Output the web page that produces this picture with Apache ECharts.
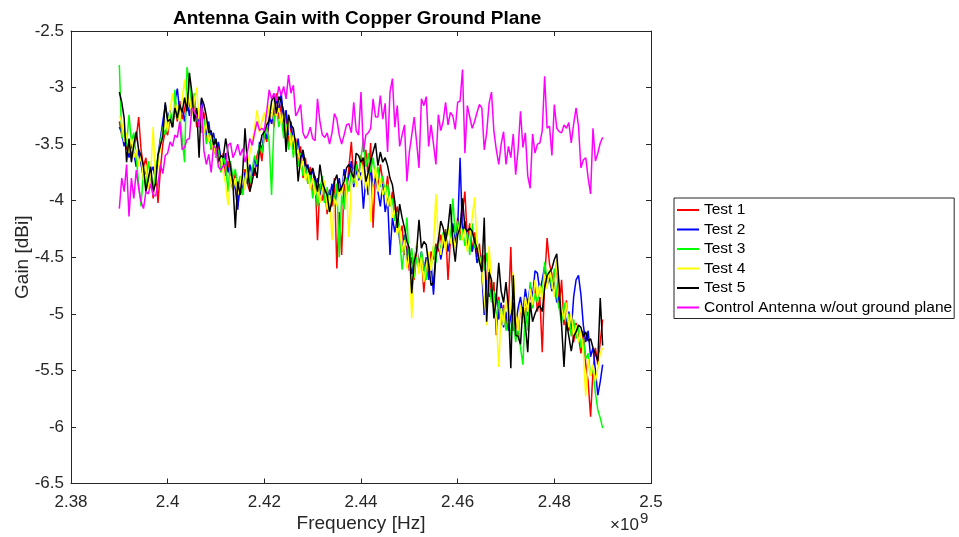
<!DOCTYPE html>
<html lang="en">
<head>
<meta charset="UTF-8">
<title>Antenna Gain with Copper Ground Plane</title>
<script src="https://cdn.jsdelivr.net/npm/echarts@6/dist/echarts.min.js"></script>
<style>
	html, body {margin: 0; padding: 0; background: #fff;}
	#chart {width: 959px; height: 537px;}
</style>
</head>
<body>
<div id="chart"></div>
<script>
	// sweep: 2.39 GHz .. 2.49 GHz in 0.5 MHz steps (201 points)
	let freqStart = 2.39e9;
	let freqStep = 0.5e6;

	let test1 = [
		-3.30,-3.42,-3.38,-3.55,-3.48,-3.60,-3.52,-3.45,-3.26,-3.55,
		-3.70,-3.62,-3.85,-3.78,-3.98,-3.70,-4.02,-3.72,-3.50,-3.38,
		-3.42,-3.25,-3.35,-3.18,-3.30,-3.12,-3.28,-3.20,-3.05,-3.15,
		-3.22,-3.10,-3.35,-3.28,-3.40,-3.22,-3.45,-3.38,-3.55,-3.48,
		-3.62,-3.50,-3.70,-3.58,-3.78,-3.65,-3.82,-3.90,-3.75,-4.05,
		-3.88,-3.95,-3.72,-3.85,-3.92,-3.70,-3.78,-3.60,-3.52,-3.65,
		-3.40,-3.48,-3.30,-3.22,-3.35,-3.05,-3.28,-3.15,-3.40,-3.25,
		-3.50,-3.32,-3.55,-3.45,-3.68,-3.52,-3.80,-3.62,-3.85,-3.70,
		-3.92,-3.78,-4.35,-3.85,-4.00,-3.88,-4.12,-3.90,-4.05,-3.80,
		-4.60,-4.10,-4.48,-3.85,-3.95,-3.70,-3.48,-3.82,-3.65,-3.78,
		-3.60,-3.72,-3.55,-3.80,-3.49,-4.24,-3.75,-3.90,-3.68,-3.82,
		-3.95,-3.78,-4.05,-3.92,-4.15,-4.05,-4.30,-4.22,-4.48,-4.40,
		-4.62,-4.50,-4.70,-4.42,-4.58,-4.48,-4.81,-4.55,-4.68,-4.45,
		-4.52,-4.38,-4.45,-4.30,-4.42,-4.25,-4.70,-4.35,-4.22,-4.40,
		-4.15,-4.32,-4.10,-3.92,-4.35,-4.20,-4.45,-4.28,-4.50,-4.38,
		-4.62,-4.48,-4.75,-4.60,-4.88,-4.72,-5.19,-4.85,-5.05,-4.92,
		-5.10,-4.95,-4.41,-5.15,-5.00,-5.20,-4.92,-5.08,-4.85,-5.02,
		-4.80,-4.95,-4.72,-4.98,-4.85,-5.34,-4.70,-4.33,-4.56,-4.65,
		-4.82,-4.53,-4.95,-4.70,-5.10,-4.88,-5.15,-5.02,-5.25,-5.08,
		-5.20,-5.35,-5.15,-5.45,-5.60,-5.91,-5.50,-5.30,-5.45,-5.25,
		-5.05
	];
	let test2 = [
		-3.35,-3.40,-3.52,-3.45,-3.62,-3.50,-3.58,-3.70,-3.55,-3.68,
		-3.80,-3.72,-3.88,-3.75,-3.70,-3.82,-3.60,-3.45,-3.30,-3.15,
		-3.28,-3.20,-3.35,-3.12,-3.01,-3.22,-3.18,-3.30,-3.12,-3.25,
		-3.08,-3.28,-3.20,-3.35,-3.10,-3.32,-3.42,-3.30,-3.48,-3.40,
		-3.55,-3.48,-3.62,-3.70,-3.58,-3.75,-3.68,-3.82,-3.90,-4.08,
		-3.80,-3.92,-3.75,-3.85,-3.68,-3.78,-3.62,-3.70,-3.48,-3.55,
		-3.38,-3.45,-3.25,-3.32,-3.18,-3.10,-3.22,-3.05,-3.30,-3.20,
		-3.42,-3.30,-3.50,-3.58,-3.45,-3.65,-3.58,-3.75,-3.68,-3.80,
		-3.72,-3.88,-3.80,-3.95,-3.85,-4.02,-3.90,-3.98,-3.85,-4.05,
		-3.92,-3.80,-3.95,-3.72,-3.85,-3.78,-3.65,-3.88,-3.72,-3.82,
		-3.75,-4.07,-3.80,-3.95,-3.70,-3.88,-3.78,-3.92,-4.05,-3.85,
		-4.10,-3.98,-4.48,-4.15,-4.28,-4.12,-4.35,-4.45,-4.30,-4.55,
		-4.48,-4.65,-4.52,-4.40,-4.58,-4.45,-4.62,-4.50,-4.70,-4.55,
		-4.83,-4.48,-4.35,-4.52,-4.40,-4.28,-4.45,-4.32,-4.20,-4.38,
		-4.25,-3.62,-4.30,-4.18,-4.40,-4.28,-4.45,-4.35,-4.55,-4.48,
		-4.64,-5.01,-4.70,-4.85,-4.78,-4.95,-4.82,-5.05,-4.90,-5.12,
		-4.98,-5.15,-5.02,-4.90,-5.10,-4.95,-4.85,-5.00,-4.78,-4.92,
		-4.75,-4.85,-4.62,-4.64,-4.80,-4.70,-4.58,-4.75,-4.68,-4.80,
		-4.72,-4.90,-4.85,-5.05,-4.92,-5.10,-4.98,-5.15,-4.85,-4.70,
		-4.66,-4.83,-5.10,-5.25,-5.15,-5.38,-5.30,-5.50,-5.72,-5.60,
		-5.45
	];
	let test3 = [
		-2.80,-3.45,-3.38,-3.52,-3.24,-3.48,-3.40,-3.62,-3.85,-4.05,
		-3.72,-3.90,-3.65,-3.78,-3.95,-3.70,-3.62,-3.48,-3.35,-3.42,
		-3.30,-3.22,-3.35,-3.02,-3.28,-3.20,-3.45,-3.66,-2.82,-2.96,
		-3.18,-3.05,-3.30,-3.22,-3.40,-3.28,-3.50,-3.38,-3.55,-3.45,
		-3.62,-3.55,-3.75,-3.60,-3.70,-3.92,-3.65,-3.80,-3.72,-3.88,
		-3.78,-3.95,-3.82,-3.70,-3.85,-3.72,-3.60,-3.68,-3.50,-3.58,
		-3.42,-3.35,-3.48,-3.95,-3.30,-3.18,-3.35,-3.25,-3.45,-3.32,
		-3.55,-3.40,-3.62,-3.48,-3.70,-3.58,-3.78,-3.70,-3.85,-3.75,
		-3.98,-3.82,-4.05,-3.90,-3.78,-4.02,-3.88,-4.10,-3.92,-4.00,
		-3.85,-4.50,-3.95,-4.08,-3.80,-3.92,-3.75,-3.85,-3.68,-3.80,
		-3.62,-3.45,-3.70,-3.58,-3.75,-3.62,-3.80,-3.70,-3.88,-3.78,
		-3.95,-3.85,-4.05,-3.98,-4.18,-4.10,-4.32,-4.61,-4.40,-4.15,
		-4.55,-4.42,-4.68,-4.50,-4.62,-4.45,-4.58,-4.70,-4.48,-4.60,
		-4.40,-4.55,-4.32,-4.45,-4.28,-4.38,-4.22,-4.35,-3.98,-4.30,
		-4.18,-4.35,-4.25,-4.40,-4.28,-4.48,-4.20,-4.42,-4.35,-4.55,
		-4.48,-4.62,-4.46,-4.75,-4.90,-4.80,-5.05,-4.88,-5.10,-4.95,
		-5.15,-5.00,-5.20,-5.05,-5.25,-5.10,-5.30,-5.45,-4.95,-5.15,
		-4.72,-4.95,-4.82,-4.90,-4.75,-4.85,-4.54,-4.70,-4.62,-4.78,
		-4.60,-4.85,-4.95,-5.08,-4.90,-5.15,-5.00,-5.20,-5.05,-5.22,
		-5.12,-5.30,-5.22,-5.40,-5.35,-5.55,-5.48,-5.70,-5.85,-5.92,
		-6.01
	];
	let test4 = [
		-3.25,-3.30,-3.48,-3.40,-3.58,-3.45,-3.62,-3.55,-3.70,-3.60,
		-3.82,-3.68,-3.90,-3.75,-3.35,-3.85,-3.70,-3.52,-3.40,-3.28,
		-3.38,-3.20,-3.05,-3.25,-3.15,-3.30,-3.10,-2.93,-3.20,-3.08,
		-3.25,-3.12,-3.00,-3.28,-3.18,-3.40,-3.30,-3.48,-3.42,-3.58,
		-3.50,-3.68,-3.60,-3.75,-3.85,-4.04,-3.78,-3.90,-3.80,-3.95,
		-3.85,-3.72,-3.90,-3.68,-3.58,-3.48,-3.35,-3.20,-3.40,-3.30,
		-3.22,-3.35,-3.15,-3.28,-3.10,-3.25,-3.18,-3.32,-3.22,-3.40,
		-3.30,-3.52,-3.42,-3.60,-3.55,-3.72,-3.65,-3.82,-3.75,-3.90,
		-3.80,-3.95,-3.85,-4.02,-3.90,-3.82,-4.08,-3.95,-4.35,-3.98,
		-4.05,-3.88,-3.95,-3.78,-3.90,-4.32,-3.85,-3.72,-3.88,-3.75,
		-3.82,-3.68,-3.90,-3.75,-4.19,-3.85,-3.70,-3.92,-3.80,-3.95,
		-3.88,-4.05,-3.95,-4.15,-4.08,-4.30,-4.22,-4.45,-4.35,-4.60,
		-4.48,-5.04,-4.55,-4.38,-4.65,-4.50,-4.72,-4.58,-4.45,-4.62,
		-4.40,-3.94,-4.35,-4.48,-4.30,-4.45,-4.22,-4.38,-4.28,-4.42,
		-4.30,-4.18,-4.35,-4.25,-4.45,-4.32,-4.15,-3.97,-4.38,-4.50,
		-4.62,-4.85,-5.10,-4.40,-4.72,-4.90,-5.05,-5.47,-4.95,-5.10,
		-4.88,-5.05,-4.95,-4.63,-5.00,-5.15,-4.92,-5.08,-4.85,-4.98,
		-4.78,-4.92,-4.70,-4.85,-4.75,-4.88,-4.65,-4.78,-4.60,-4.72,
		-4.85,-4.53,-4.80,-4.95,-5.05,-4.90,-5.12,-5.00,-5.20,-5.10,
		-5.25,-5.15,-5.35,-5.73,-5.40,-5.55,-5.45,-5.60,-5.48,-5.35,
		-5.30
	];
	let test5 = [
		-3.04,-3.13,-3.27,-3.66,-3.45,-3.66,-3.50,-3.39,-3.55,-3.60,
		-3.70,-3.92,-3.80,-3.70,-3.92,-3.85,-3.60,-3.51,-3.43,-3.13,
		-3.30,-3.28,-3.35,-3.18,-3.27,-3.15,-3.22,-3.09,-3.21,-2.87,
		-3.04,-3.30,-3.18,-3.62,-3.09,-3.15,-3.25,-3.40,-3.38,-3.51,
		-3.45,-3.66,-3.60,-3.62,-3.45,-3.58,-3.70,-3.85,-4.24,-3.83,
		-3.95,-3.77,-3.36,-3.67,-3.92,-3.83,-3.71,-3.80,-3.54,-3.42,
		-3.39,-3.33,-3.29,-3.12,-3.07,-3.23,-3.08,-3.12,-3.21,-3.57,
		-3.24,-3.33,-3.36,-3.51,-3.83,-3.62,-3.55,-3.68,-3.71,-3.77,
		-3.71,-3.80,-3.92,-3.68,-3.83,-3.90,-3.95,-4.10,-4.00,-3.83,
		-3.77,-3.92,-3.88,-3.83,-3.71,-3.68,-3.75,-3.80,-3.58,-3.60,
		-3.66,-3.62,-3.83,-3.75,-3.65,-3.57,-3.49,-3.69,-3.57,-3.66,
		-3.62,-3.69,-3.80,-3.86,-4.01,-4.24,-4.03,-4.15,-4.24,-4.36,
		-4.42,-4.82,-4.54,-4.45,-4.17,-4.42,-4.36,-4.39,-4.57,-4.75,
		-4.72,-4.48,-4.36,-4.18,-4.24,-4.36,-4.24,-4.03,-4.36,-4.54,
		-4.30,-4.24,-3.98,-4.24,-4.27,-4.24,-4.27,-4.36,-4.42,-4.54,
		-4.63,-4.15,-5.07,-4.63,-4.70,-5.04,-4.85,-4.55,-4.80,-4.90,
		-4.72,-4.95,-5.48,-4.66,-5.19,-5.20,-5.27,-4.94,-5.10,-5.34,
		-4.90,-5.07,-5.00,-4.95,-4.93,-4.98,-4.77,-4.66,-4.63,-4.60,
		-4.52,-4.47,-4.75,-5.10,-5.47,-5.07,-5.20,-5.33,-5.20,-5.16,
		-5.10,-5.12,-5.20,-5.16,-5.24,-5.22,-5.30,-5.35,-5.42,-4.86,
		-5.28
	];
	let control = [
		-4.07,-3.80,-3.92,-3.68,-4.14,-3.80,-3.98,-3.73,-3.89,-4.01,
		-4.07,-3.92,-3.94,-3.85,-3.95,-3.96,-3.85,-3.68,-3.76,-3.60,
		-3.58,-3.48,-3.52,-3.42,-3.44,-3.30,-3.55,-3.53,-3.46,-3.45,
		-3.18,-3.21,-3.25,-3.35,-3.15,-3.56,-3.68,-3.59,-3.75,-3.51,
		-3.54,-3.70,-3.73,-3.69,-3.69,-3.51,-3.49,-3.62,-3.57,-3.50,
		-3.60,-3.54,-3.66,-3.57,-3.45,-3.51,-3.40,-3.30,-3.38,-3.36,
		-3.38,-3.21,-3.02,-3.10,-3.05,-3.12,-2.99,-3.07,-2.99,-3.10,
		-2.89,-3.05,-2.98,-3.25,-3.21,-3.15,-3.40,-3.45,-3.42,-3.35,
		-3.45,-3.47,-3.10,-3.30,-3.42,-3.44,-3.40,-3.50,-3.40,-3.23,
		-3.28,-3.42,-3.50,-3.42,-3.33,-3.32,-3.40,-3.13,-3.38,-3.42,
		-3.04,-3.57,-3.42,-3.40,-3.36,-3.10,-3.26,-3.26,-3.07,-3.28,
		-3.14,-3.57,-3.04,-2.92,-3.35,-3.16,-3.52,-3.42,-3.33,-3.83,
		-3.57,-3.42,-3.26,-3.48,-3.71,-3.10,-3.16,-3.08,-3.52,-3.33,
		-3.50,-3.68,-3.24,-3.38,-3.30,-3.13,-3.33,-3.22,-3.25,-3.37,
		-3.13,-3.12,-2.84,-3.58,-3.16,-3.26,-3.36,-3.30,-3.22,-3.15,
		-3.18,-3.55,-3.40,-3.14,-3.04,-3.39,-3.55,-3.68,-3.50,-3.39,
		-3.68,-3.52,-3.62,-3.41,-3.77,-3.55,-3.21,-3.53,-3.40,-3.78,
		-3.89,-3.41,-3.58,-3.50,-3.49,-3.38,-2.90,-3.36,-3.34,-3.60,
		-3.15,-3.36,-3.39,-3.40,-3.33,-3.36,-3.31,-3.49,-3.32,-3.18,
		-3.34,-3.71,-3.64,-3.62,-3.80,-3.94,-3.36,-3.65,-3.58,-3.49,
		-3.44
	];

	let names = ['Test 1', 'Test 2', 'Test 3', 'Test 4', 'Test 5', 'Control Antenna w/out ground plane'];
	let colors = ['#ff0000', '#0000ff', '#00ff00', '#ffff00', '#000000', '#ff00ff'];
	let values = [test1, test2, test3, test4, test5, control];

	let font = '"Liberation Sans", Arial, Helvetica, sans-serif';
	let axisColor = '#262626';

	function xAxisOf(pos) {
		return {
			type: 'value', position: pos,
			min: 2.38e9, max: 2.5e9, interval: 2e7,
			axisLine: {show: true, onZero: false, lineStyle: {color: axisColor, width: 1}},
			axisTick: {show: true, inside: true, length: 5, lineStyle: {color: axisColor}},
			splitLine: {show: false},
			axisLabel: {
				show: pos == 'bottom', color: axisColor, fontSize: 17, fontFamily: font, margin: 10,
				formatter: v => String(+(v / 1e9).toFixed(2))
			}
		};
	}
	function yAxisOf(pos) {
		return {
			type: 'value', position: pos,
			min: -6.5, max: -2.5, interval: 0.5,
			axisLine: {show: true, onZero: false, lineStyle: {color: axisColor, width: 1}},
			axisTick: {show: true, inside: true, length: 5, lineStyle: {color: axisColor}},
			splitLine: {show: false},
			axisLabel: {show: pos == 'left', color: axisColor, fontSize: 17, fontFamily: font, margin: 7}
		};
	}

	let xBottom = xAxisOf('bottom');
	xBottom.name = 'Frequency [Hz]';
	xBottom.nameLocation = 'middle';
	xBottom.nameGap = 31;
	xBottom.nameMoveOverlap = false;
	xBottom.nameTextStyle = {color: axisColor, fontSize: 19, fontFamily: font};

	let yLeft = yAxisOf('left');
	yLeft.name = 'Gain [dBi]';
	yLeft.nameLocation = 'middle';
	yLeft.nameGap = 39;
	yLeft.nameMoveOverlap = false;
	yLeft.nameTextStyle = {color: axisColor, fontSize: 19, fontFamily: font};

	let options = {
		animation: false,
		backgroundColor: '#fff',
		title: {
			text: 'Antenna Gain with Copper Ground Plane',
			left: 173, top: 9, padding: 0,
			textStyle: {fontSize: 19, fontWeight: 'bold', color: '#000', fontFamily: font}
		},
		grid: {left: 71, top: 31, width: 580, height: 452.5, outerBoundsMode: 'none'},
		xAxis: [xBottom, xAxisOf('top')],
		yAxis: [yLeft, yAxisOf('right')],
		legend: {
			orient: 'vertical', left: 674, top: 198,
			padding: [4, 2, 3, 3],
			itemWidth: 22, itemHeight: 2, itemGap: 3.5,
			icon: 'rect',
			selectedMode: false,
			backgroundColor: '#fff', borderColor: axisColor, borderWidth: 1,
			textStyle: {fontSize: 15.5, color: '#000', fontFamily: font},
			data: names
		},
		graphic: [
			{type: 'text', left: 610, top: 517, style: {text: '×10', fontSize: 17, fontFamily: font, fill: axisColor}},
			{type: 'text', left: 640, top: 511, style: {text: '9', fontSize: 15, fontFamily: font, fill: axisColor}}
		],
		series: values.map((vals, k) => ({
			name: names[k],
			type: 'line',
			xAxisIndex: 0, yAxisIndex: 0,
			data: vals.map((v, i) => [freqStart + i * freqStep, v]),
			showSymbol: false, symbol: 'none',
			lineStyle: {color: colors[k], width: 1.5},
			itemStyle: {color: colors[k]},
			z: 2 + k
		}))
	};

	let chart = echarts.init(document.getElementById('chart'));
	chart.setOption(options);
</script>
</body>
</html>
